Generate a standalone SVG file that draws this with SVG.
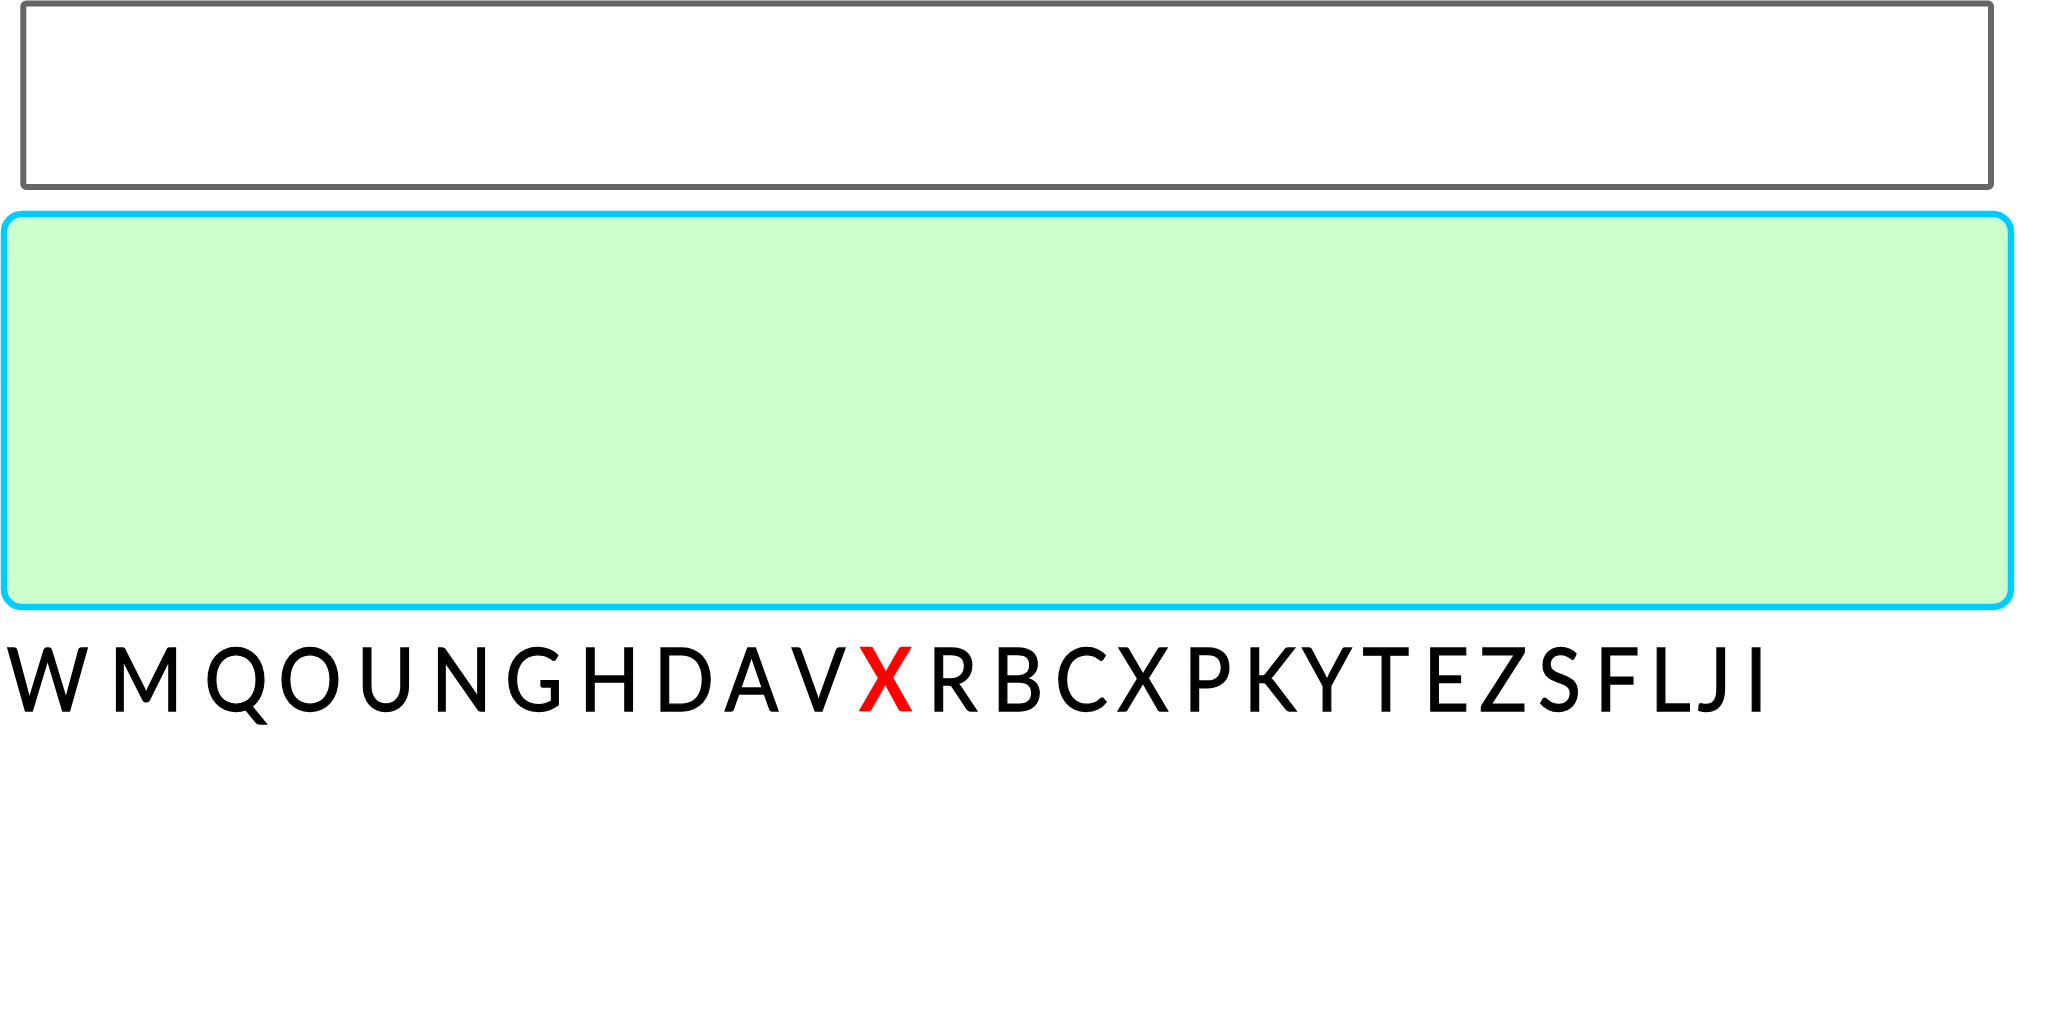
<svg xmlns="http://www.w3.org/2000/svg" width="2048" height="1024" viewBox="0 0 2048 1024">
  <style>
    .box-top { fill: #FFFFFF; stroke: #666666; stroke-width: 6; }
    .box-green { fill: #CCFFCC; stroke: #00CCFF; stroke-width: 6.5; }
    .letters { font-family: Lato, "Open Sans", "Liberation Sans", sans-serif; font-size: 88px; fill: #000000; stroke: #000000; stroke-width: 1.3; text-anchor: middle; }
    .red { fill: #FF0000; stroke: #FF0000; stroke-width: 0.5; font-weight: bold; }
  </style>
  <rect width="2048" height="1024" fill="#FFFFFF"/>
  <g id="top-box">
    <rect class="box-top" x="23.3" y="3.5" width="1967.7" height="183.5" rx="3" ry="3"/>
  </g>
  <g id="green-box">
    <rect class="box-green" x="4" y="214" width="2007" height="393" rx="18" ry="18"/>
  </g>
  <g id="connectors"></g>
  <g id="letter-row" transform="scale(0.9 1)">
    <text class="letters" y="711"><tspan x="52.8">W</tspan><tspan x="162.2">M</tspan><tspan x="262.2">Q</tspan><tspan x="344.4">O</tspan><tspan x="428.9">U</tspan><tspan x="512.8">N</tspan><tspan x="593.3">G</tspan><tspan x="677.2">H</tspan><tspan x="760">D</tspan><tspan x="835">A</tspan><tspan x="909.4">V</tspan><tspan x="983.9" class="red">X</tspan><tspan x="1058.3">R</tspan><tspan x="1130.6">B</tspan><tspan x="1201.7">C</tspan><tspan x="1270">X</tspan><tspan x="1341.7">P</tspan><tspan x="1411.1">K</tspan><tspan x="1474.4">Y</tspan><tspan x="1540">T</tspan><tspan x="1607.2">E</tspan><tspan x="1670">Z</tspan><tspan x="1732.8">S</tspan><tspan x="1796.7">F</tspan><tspan x="1856">L</tspan><tspan x="1905">J</tspan><tspan x="1951.1">I</tspan></text>
  </g>
</svg>
